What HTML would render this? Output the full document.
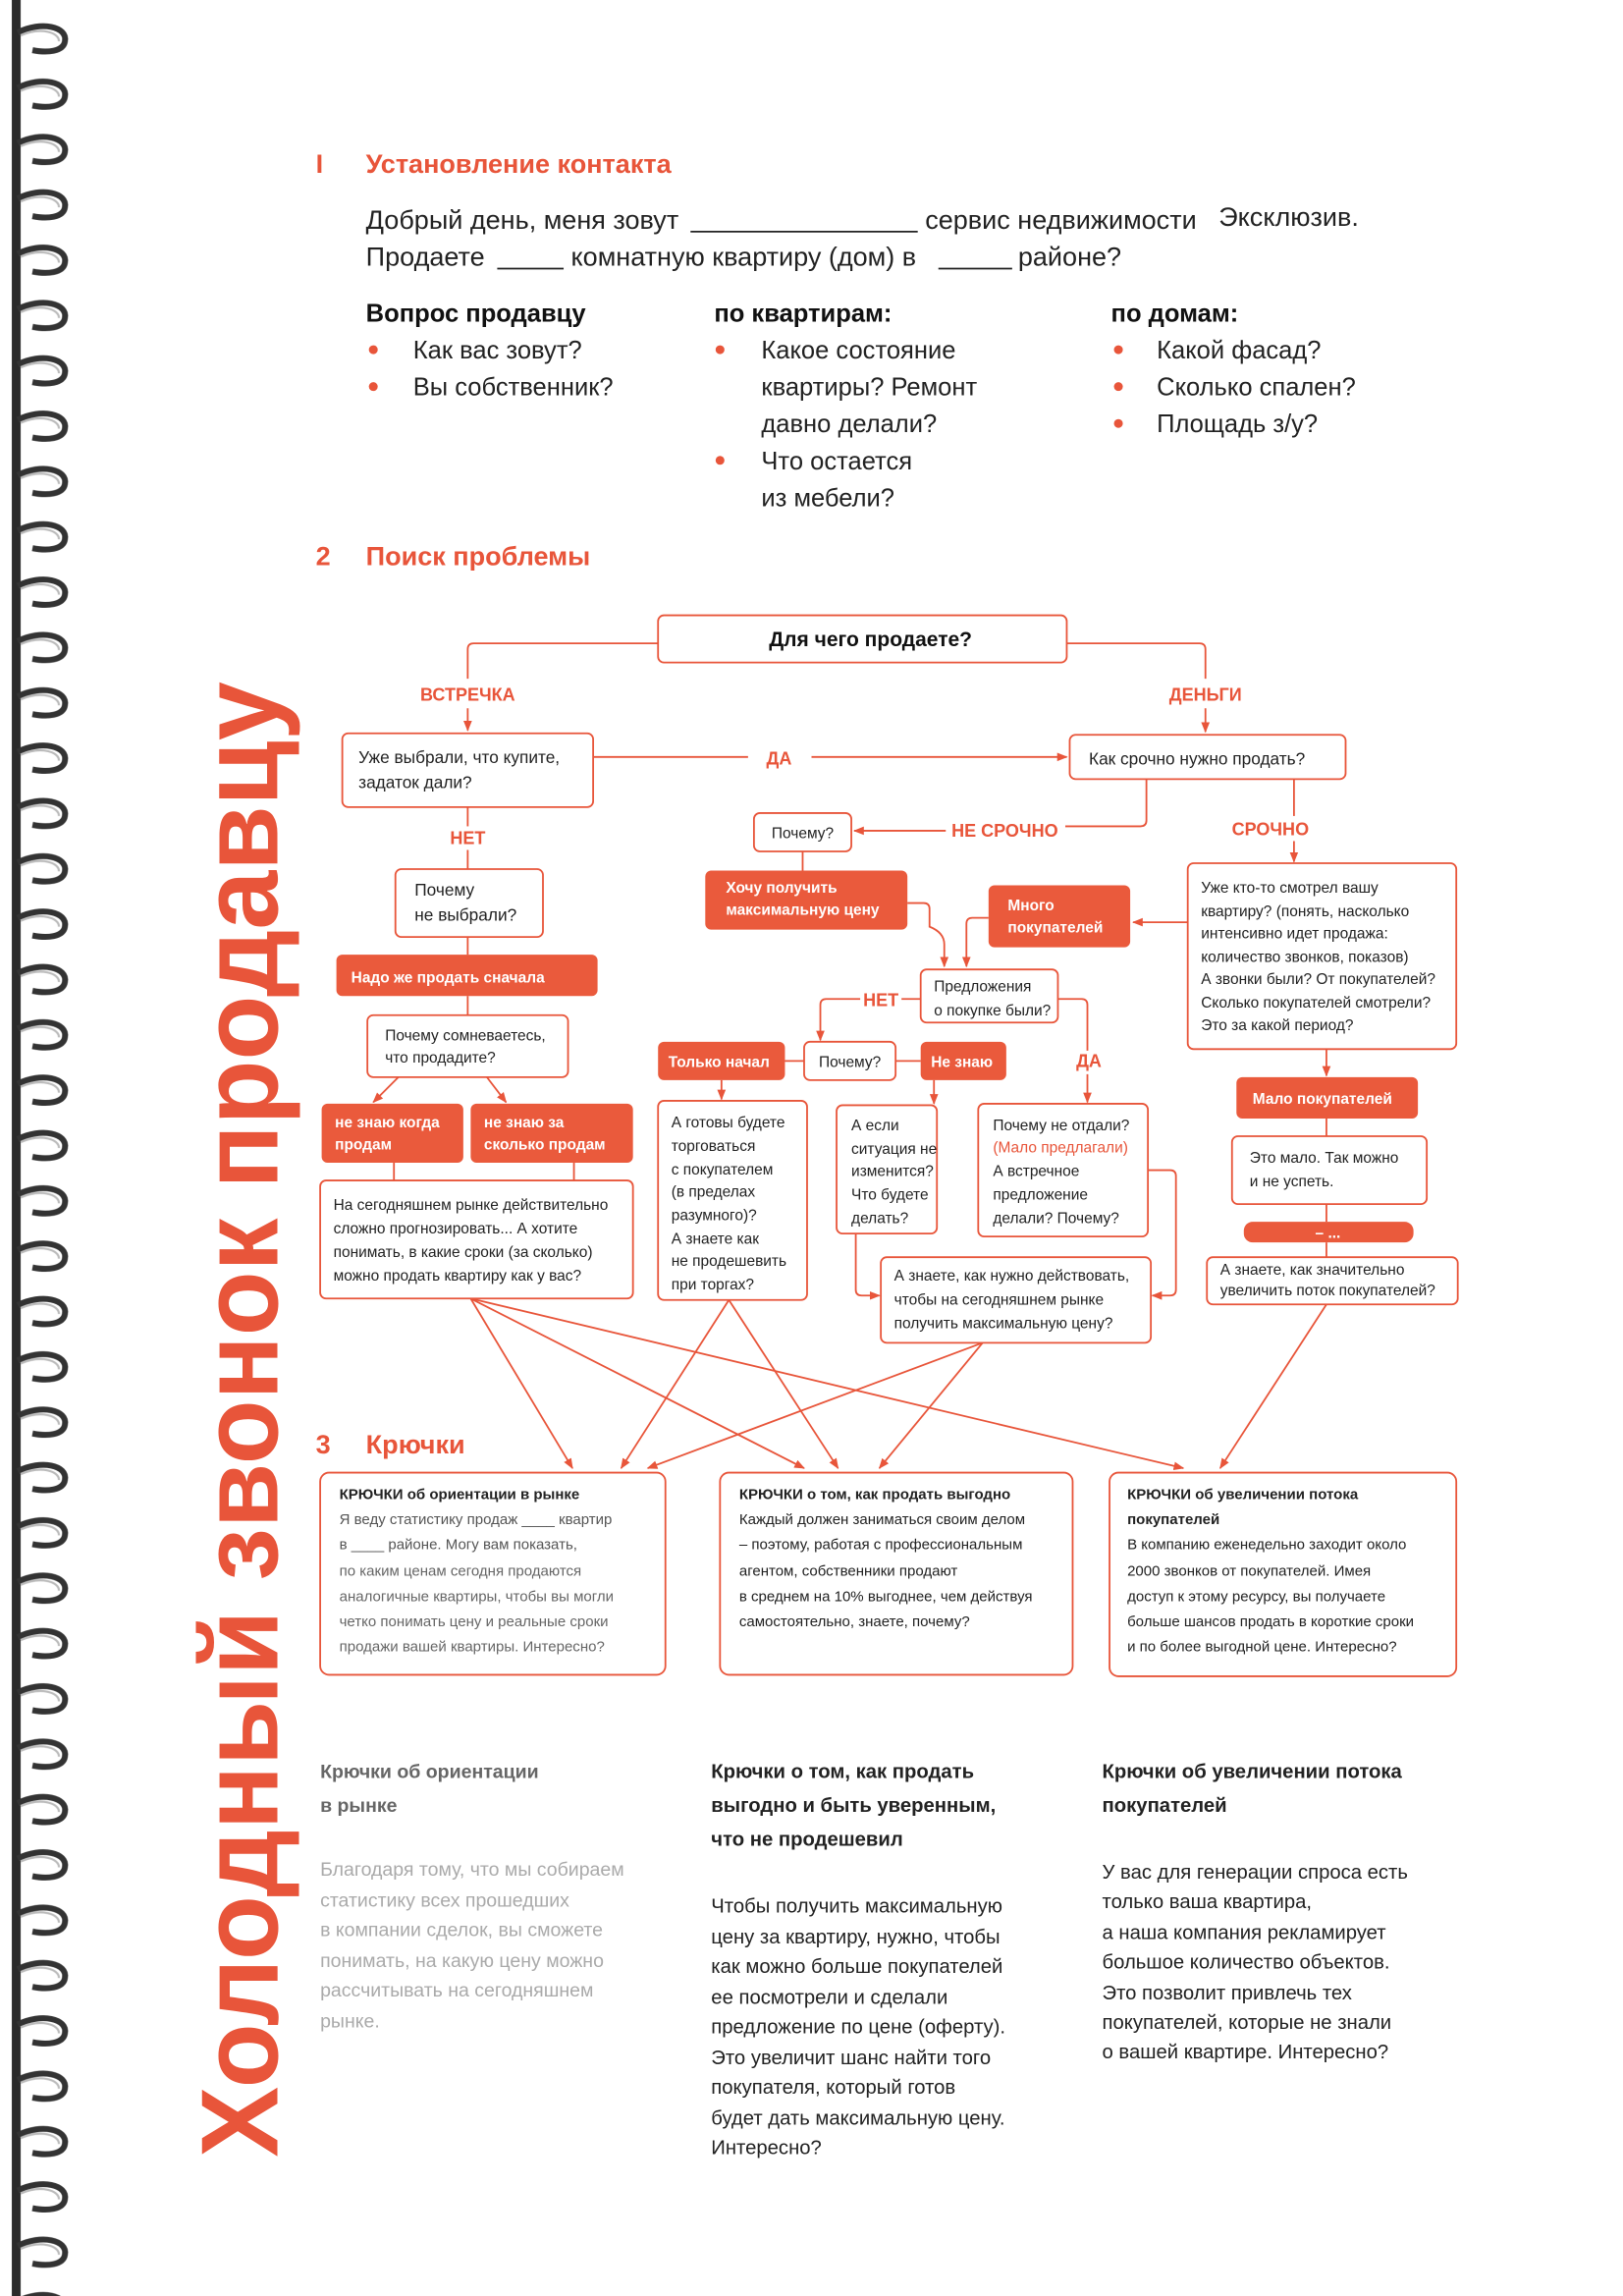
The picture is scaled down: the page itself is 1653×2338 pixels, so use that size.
<!DOCTYPE html>
<html><head><meta charset="utf-8"><style>
html,body{margin:0;padding:0;background:#fff}
svg{display:block}
text{font-family:"Liberation Sans","DejaVu Sans",sans-serif}
</style></head><body>
<svg width="1653" height="2338" viewBox="0 0 1100 1556" preserveAspectRatio="none" xmlns="http://www.w3.org/2000/svg">
<defs>
<marker id="a" viewBox="0 0 10 10" refX="9" refY="5" markerWidth="6" markerHeight="6" orient="auto-start-reverse"><path d="M0,1 L10,5 L0,9 z" fill="#e8553a"/></marker>
<pattern id="ring" x="0" y="14" width="60" height="37.5" patternUnits="userSpaceOnUse">
<rect x="8" y="0" width="6" height="37.5" fill="#2a2a2a"/>
<path d="M12,8 C28,0 46,4 44,14 C43,21 32,22 22,20" fill="none" stroke="#333" stroke-width="4"/>
<path d="M14,10 C28,4 40,8 40,14" fill="none" stroke="#bbb" stroke-width="1.5"/>
</pattern>
</defs>
<rect x="0" y="0" width="1100" height="1556" fill="#fff"/>
<rect x="0" y="0" width="55" height="1556" fill="url(#ring)"/>

<!-- vertical title -->
<text transform="translate(188,1462) rotate(-90)" font-size="74" font-weight="bold" fill="#e8553a" textLength="1000" lengthAdjust="spacingAndGlyphs">Холодный звонок продавцу</text>

<g fill="#e8553a" font-weight="bold" font-size="18">
<text x="214" y="117">I</text><text x="248" y="117">Установление контакта</text>
<text x="214" y="383">2</text><text x="248" y="383">Поиск проблемы</text>
<text x="214" y="985">3</text><text x="248" y="985">Крючки</text>
</g>

<g font-size="18" fill="#222">
<text x="248" y="155">Добрый день, меня зовут</text>
<text x="627" y="155">сервис недвижимости</text>
<text x="826" y="153">Эксклюзив.</text>
<text x="248" y="180">Продаете</text>
<text x="387" y="180">комнатную квартиру (дом) в</text>
<text x="690" y="180">районе?</text>
</g>
<g stroke="#222" stroke-width="1.2">
<line x1="468" y1="157" x2="622" y2="157"/><line x1="337" y1="182" x2="382" y2="182"/><line x1="636" y1="182" x2="686" y2="182"/>
</g>
<g font-size="17" font-weight="bold" fill="#111">
<text x="248" y="218">Вопрос продавцу</text><text x="484" y="218">по квартирам:</text><text x="753" y="218">по домам:</text>
</g>
<g fill="#e8553a">
<circle cx="253" cy="237" r="3"/><circle cx="253" cy="262" r="3"/>
<circle cx="488" cy="237" r="3"/><circle cx="488" cy="312" r="3"/>
<circle cx="758" cy="237" r="3"/><circle cx="758" cy="262" r="3"/><circle cx="758" cy="287" r="3"/>
</g>
<g font-size="17" fill="#222">
<text x="280" y="243">Как вас зовут?</text><text x="280" y="268">Вы собственник?</text>
<text x="516" y="243">Какое состояние</text><text x="516" y="268">квартиры? Ремонт</text><text x="516" y="293">давно делали?</text><text x="516" y="318">Что остается</text><text x="516" y="343">из мебели?</text>
<text x="784" y="243">Какой фасад?</text><text x="784" y="268">Сколько спален?</text><text x="784" y="293">Площадь з/у?</text>
</g>

<!-- connectors -->
<g fill="none" stroke="#e8553a" stroke-width="1.2">
<path d="M446,436 H321 Q317,436 317,440 V460"/><path d="M317,480 V495" marker-end="url(#a)"/>
<path d="M723,436 H813 Q817,436 817,440 V460"/><path d="M817,480 V496" marker-end="url(#a)"/>
<path d="M402,513 H507"/><path d="M550,513 H723" marker-end="url(#a)"/>
<path d="M317,547 V560"/><path d="M317,576 V589"/>
<path d="M317,635 V647"/><path d="M317,675 V688"/>
<path d="M270,730 L253,747" marker-end="url(#a)"/><path d="M330,730 L343,747" marker-end="url(#a)"/>
<path d="M267,788 V800"/><path d="M389,788 V800"/>
<path d="M777,528 V556 Q777,560 773,560 H722"/><path d="M641,563 H579" marker-end="url(#a)"/>
<path d="M877,528 V553"/><path d="M877,570 V584" marker-end="url(#a)"/>
<path d="M544,577 V590"/>
<path d="M805,625 H768" marker-end="url(#a)"/>
<path d="M615,612 H626 Q630,612 630,616 V628 Q640,632 640,640 V655" marker-end="url(#a)"/>
<path d="M670,622 H659 Q655,622 655,626 V655" marker-end="url(#a)"/>
<path d="M624,677 H611"/><path d="M583,677 H560 Q556,677 556,681 V705" marker-end="url(#a)"/>
<path d="M717,677 H733 Q737,677 737,681 V712"/><path d="M737,728 V747" marker-end="url(#a)"/>
<path d="M532,719 H545"/><path d="M607,719 H624"/>
<path d="M489,732 V745" marker-end="url(#a)"/><path d="M633,732 V748" marker-end="url(#a)"/>
<path d="M580,836 V874 Q580,878 584,878 H596" marker-end="url(#a)"/>
<path d="M778,793 H793 Q797,793 797,797 V874 Q797,878 793,878 H781" marker-end="url(#a)"/>
<path d="M899,711 V729" marker-end="url(#a)"/>
<path d="M899,758 V770"/><path d="M899,816 V828"/><path d="M899,842 V852"/>
<path d="M319,880 L388,995" marker-end="url(#a)"/>
<path d="M319,880 L545,995" marker-end="url(#a)"/>
<path d="M319,880 L802,995" marker-end="url(#a)"/>
<path d="M494,881 L421,995" marker-end="url(#a)"/>
<path d="M494,881 L568,995" marker-end="url(#a)"/>
<path d="M666,910 L439,995" marker-end="url(#a)"/>
<path d="M666,910 L596,995" marker-end="url(#a)"/>
<path d="M899,884 L827,995" marker-end="url(#a)"/>
</g>

<!-- outlined boxes -->
<g fill="#fff" stroke="#e8553a" stroke-width="1.2">
<rect x="446" y="417" width="277" height="32" rx="4"/>
<rect x="232" y="497" width="170" height="50" rx="4"/>
<rect x="725" y="498" width="187" height="30" rx="4"/>
<rect x="268" y="589" width="100" height="46" rx="4"/>
<rect x="249" y="688" width="136" height="42" rx="4"/>
<rect x="217" y="800" width="212" height="80" rx="4"/>
<rect x="511" y="551" width="66" height="26" rx="4"/>
<rect x="805" y="585" width="182" height="126" rx="4"/>
<rect x="624" y="657" width="93" height="36" rx="4"/>
<rect x="545" y="706" width="62" height="26" rx="4"/>
<rect x="446" y="746" width="101" height="135" rx="4"/>
<rect x="567" y="749" width="68" height="87" rx="4"/>
<rect x="663" y="748" width="115" height="90" rx="4"/>
<rect x="597" y="852" width="183" height="58" rx="4"/>
<rect x="835" y="770" width="132" height="46" rx="4"/>
<rect x="818" y="852" width="170" height="32" rx="4"/>
<rect x="217" y="998" width="234" height="137" rx="6"/>
<rect x="488" y="998" width="239" height="137" rx="6"/>
<rect x="752" y="998" width="235" height="138" rx="6"/>
</g>
<!-- filled boxes -->
<g fill="#ea5a3c">
<rect x="228" y="647" width="177" height="28" rx="4"/>
<rect x="218" y="748" width="96" height="40" rx="4"/>
<rect x="319" y="748" width="110" height="40" rx="4"/>
<rect x="478" y="590" width="137" height="40" rx="4"/>
<rect x="670" y="600" width="96" height="42" rx="4"/>
<rect x="446" y="706" width="86" height="26" rx="4"/>
<rect x="624" y="706" width="58" height="26" rx="4"/>
<rect x="838" y="730" width="123" height="28" rx="4"/>
<rect x="843" y="828" width="115" height="14" rx="6"/>
</g>

<!-- labels -->
<g fill="#e8553a" font-weight="bold" font-size="12" text-anchor="middle">
<text x="317" y="475">ВСТРЕЧКА</text><text x="817" y="475">ДЕНЬГИ</text>
<text x="528" y="518">ДА</text><text x="317" y="572">НЕТ</text>
<text x="681" y="567">НЕ СРОЧНО</text><text x="861" y="566">СРОЧНО</text>
<text x="597" y="682">НЕТ</text><text x="738" y="723">ДА</text>
</g>

<text x="590" y="438" font-size="14" font-weight="bold" fill="#111" text-anchor="middle">Для чего продаете?</text>
<g font-size="11.5" fill="#222">
<text x="243" y="517">Уже выбрали, что купите,</text><text x="243" y="534">задаток дали?</text>
<text x="738" y="518">Как срочно нужно продать?</text>
<text x="281" y="607">Почему</text><text x="281" y="624">не выбрали?</text>
</g>
<g font-size="10.3" fill="#222">
<text x="261" y="705">Почему сомневаетесь,</text><text x="261" y="720">что продадите?</text>
<text x="226" y="820">На сегодняшнем рынке действительно</text>
<text x="226" y="836">сложно прогнозировать... А хотите</text>
<text x="226" y="852">понимать, в какие сроки (за сколько)</text>
<text x="226" y="868">можно продать квартиру как у вас?</text>
<text x="523" y="568">Почему?</text>
<text x="814" y="605">Уже кто-то смотрел вашу</text>
<text x="814" y="621">квартиру? (понять, насколько</text>
<text x="814" y="636">интенсивно идет продажа:</text>
<text x="814" y="652">количество звонков, показов)</text>
<text x="814" y="667">А звонки были? От покупателей?</text>
<text x="814" y="683">Сколько покупателей смотрели?</text>
<text x="814" y="698">Это за какой период?</text>
<text x="633" y="672">Предложения</text><text x="633" y="688">о покупке были?</text>
<text x="555" y="723">Почему?</text>
<text x="455" y="764">А готовы будете</text><text x="455" y="780">торговаться</text><text x="455" y="796">с покупателем</text><text x="455" y="811">(в пределах</text><text x="455" y="827">разумного)?</text><text x="455" y="843">А знаете как</text><text x="455" y="858">не продешевить</text><text x="455" y="874">при торгах?</text>
<text x="577" y="766">А если</text><text x="577" y="782">ситуация не</text><text x="577" y="797">изменится?</text><text x="577" y="813">Что будете</text><text x="577" y="829">делать?</text>
<text x="673" y="766">Почему не отдали?</text><text x="673" y="781" fill="#e8553a">(Мало предлагали)</text><text x="673" y="797">А встречное</text><text x="673" y="813">предложение</text><text x="673" y="829">делали? Почему?</text>
<text x="606" y="868">А знаете, как нужно действовать,</text><text x="606" y="884">чтобы на сегодняшнем рынке</text><text x="606" y="900">получить максимальную цену?</text>
<text x="847" y="788">Это мало. Так можно</text><text x="847" y="804">и не успеть.</text>
<text x="827" y="864">А знаете, как значительно</text><text x="827" y="878">увеличить поток покупателей?</text>
</g>
<g font-size="10.3" font-weight="bold" fill="#fff">
<text x="238" y="666">Надо же продать сначала</text>
<text x="227" y="764">не знаю когда</text><text x="227" y="779">продам</text>
<text x="328" y="764">не знаю за</text><text x="328" y="779">сколько продам</text>
<text x="492" y="605">Хочу получить</text><text x="492" y="620">максимальную цену</text>
<text x="683" y="617">Много</text><text x="683" y="632">покупателей</text>
<text x="453" y="723">Только начал</text>
<text x="631" y="723">Не знаю</text>
<text x="849" y="748">Мало покупателей</text>
<text x="900" y="839" text-anchor="middle">– ...</text>
</g>

<!-- hook boxes text -->
<g font-size="10" fill="#222">
<text x="230" y="1016" font-weight="bold">КРЮЧКИ об ориентации в рынке</text>
<text x="230" y="1033" fill="#555">Я веду статистику продаж ____ квартир</text>
<text x="230" y="1050" fill="#555">в ____ районе. Могу вам показать,</text>
<text x="230" y="1068" fill="#666">по каким ценам сегодня продаются</text>
<text x="230" y="1085" fill="#666">аналогичные квартиры, чтобы вы могли</text>
<text x="230" y="1102" fill="#666">четко понимать цену и реальные сроки</text>
<text x="230" y="1119" fill="#666">продажи вашей квартиры. Интересно?</text>
<text x="501" y="1016" font-weight="bold">КРЮЧКИ о том, как продать выгодно</text>
<text x="501" y="1033">Каждый должен заниматься своим делом</text>
<text x="501" y="1050">– поэтому, работая с профессиональным</text>
<text x="501" y="1068">агентом, собственники продают</text>
<text x="501" y="1085">в среднем на 10% выгоднее, чем действуя</text>
<text x="501" y="1102">самостоятельно, знаете, почему?</text>
<text x="764" y="1016" font-weight="bold">КРЮЧКИ об увеличении потока</text>
<text x="764" y="1033" font-weight="bold">покупателей</text>
<text x="764" y="1050">В компанию еженедельно заходит около</text>
<text x="764" y="1068">2000 звонков от покупателей. Имея</text>
<text x="764" y="1085">доступ к этому ресурсу, вы получаете</text>
<text x="764" y="1102">больше шансов продать в короткие сроки</text>
<text x="764" y="1119">и по более выгодной цене. Интересно?</text>
</g>

<!-- bottom columns -->
<g font-size="13" fill="#777">
<text x="217" y="1205" font-weight="bold" fill="#666">Крючки об ориентации</text>
<text x="217" y="1228" font-weight="bold" fill="#666">в рынке</text>
<g fill="#aaa">
<text x="217" y="1271">Благодаря тому, что мы собираем</text>
<text x="217" y="1292">статистику всех прошедших</text>
<text x="217" y="1312">в компании сделок, вы сможете</text>
<text x="217" y="1333">понимать, на какую цену можно</text>
<text x="217" y="1353">рассчитывать на сегодняшнем</text>
<text x="217" y="1374">рынке.</text>
</g>
</g>
<g font-size="13.5" fill="#222">
<text x="482" y="1205" font-weight="bold">Крючки о том, как продать</text>
<text x="482" y="1228" font-weight="bold">выгодно и быть уверенным,</text>
<text x="482" y="1251" font-weight="bold">что не продешевил</text>
<text x="482" y="1296">Чтобы получить максимальную</text>
<text x="482" y="1317">цену за квартиру, нужно, чтобы</text>
<text x="482" y="1337">как можно больше покупателей</text>
<text x="482" y="1358">ее посмотрели  и сделали</text>
<text x="482" y="1378">предложение по цене (оферту).</text>
<text x="482" y="1399">Это увеличит шанс найти того</text>
<text x="482" y="1419">покупателя, который готов</text>
<text x="482" y="1440">будет дать максимальную цену.</text>
<text x="482" y="1460">Интересно?</text>
<text x="747" y="1205" font-weight="bold">Крючки об увеличении потока</text>
<text x="747" y="1228" font-weight="bold">покупателей</text>
<text x="747" y="1273">У вас для генерации спроса есть</text>
<text x="747" y="1293">только ваша квартира,</text>
<text x="747" y="1314">а наша компания рекламирует</text>
<text x="747" y="1334">большое количество объектов.</text>
<text x="747" y="1355">Это позволит привлечь тех</text>
<text x="747" y="1375">покупателей, которые не знали</text>
<text x="747" y="1395">о вашей квартире. Интересно?</text>
</g>
</svg>
</body></html>
